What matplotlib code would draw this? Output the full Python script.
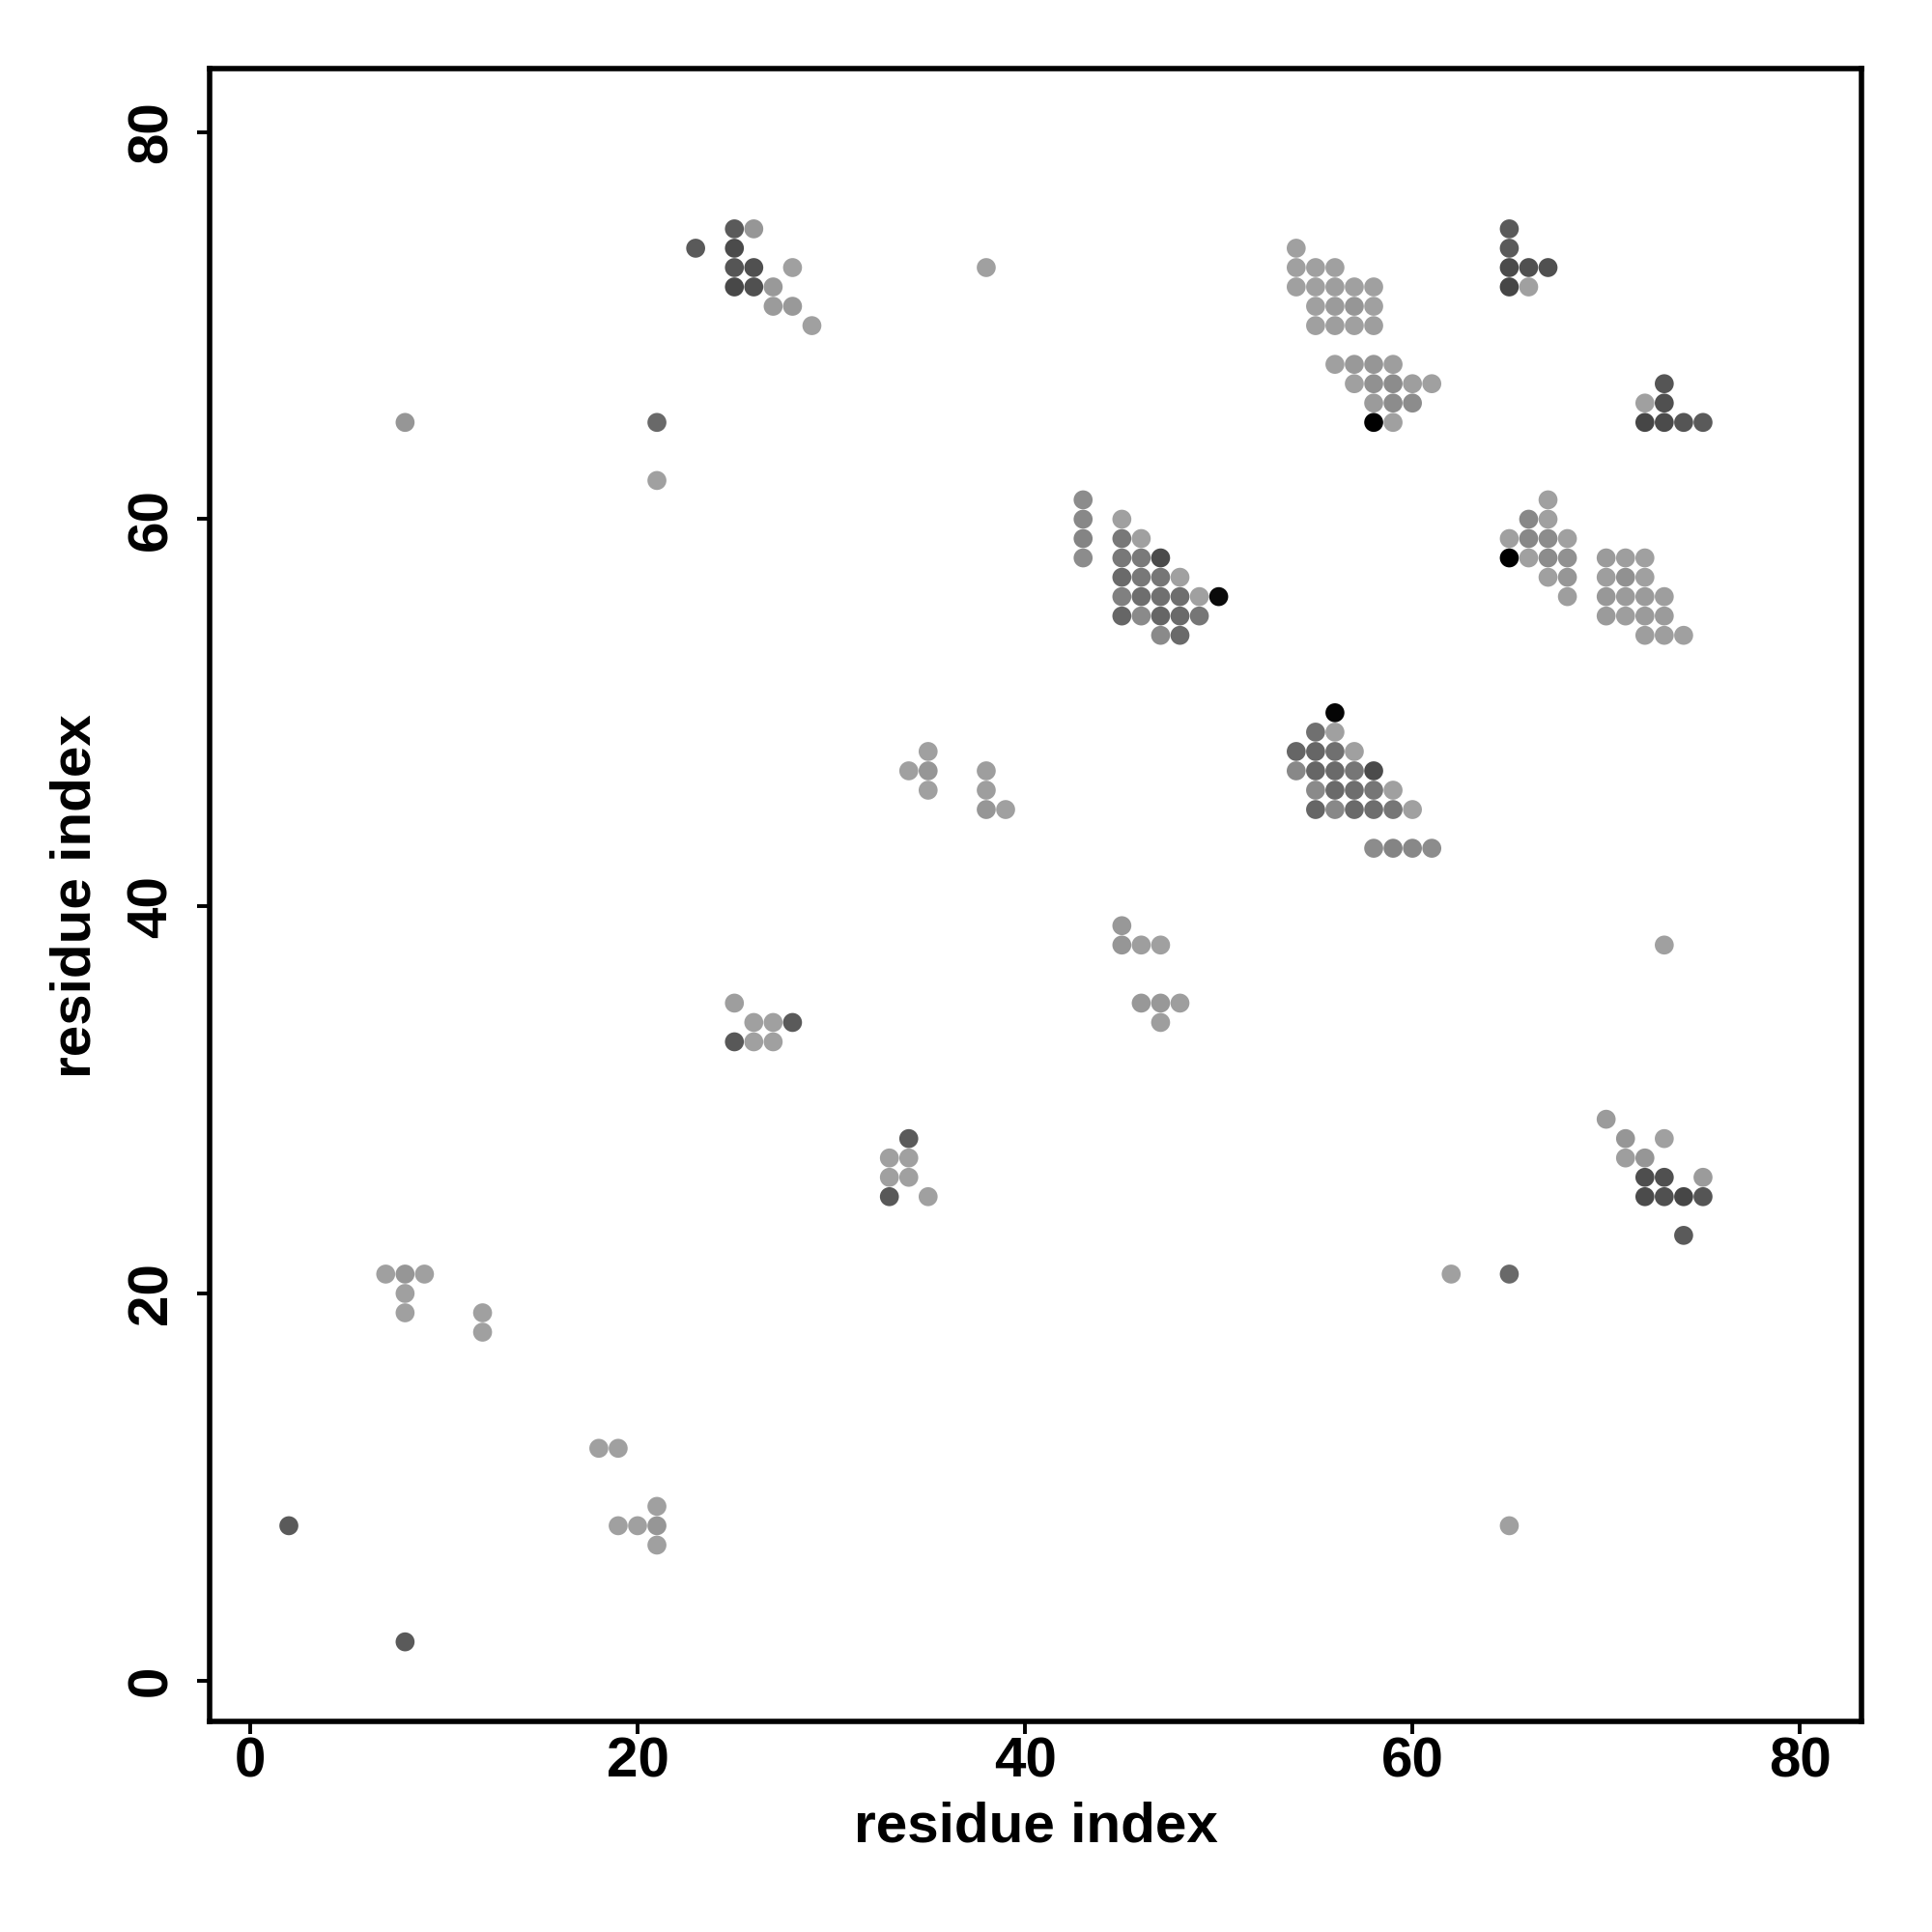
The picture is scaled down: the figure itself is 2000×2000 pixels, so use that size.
import matplotlib
matplotlib.use("Agg")
import matplotlib.pyplot as plt
import numpy as np

# contact map: residue pairs (i, j) and grey level (0 = black, 255 = white)
res_i = [23, 25, 26, 25, 25, 26, 28, 25, 26, 27, 27, 28, 29,
         38, 8, 21, 21,
         54, 54, 55, 56, 54, 55, 56, 57, 58, 55, 56, 57, 58, 55, 56, 57, 58,
         56, 57, 58, 59, 57, 58, 59, 60, 61, 58, 59, 60, 58, 59,
         65, 65, 65, 66, 67, 65, 66,
         73, 72, 73, 72, 73, 74, 75,
         43, 43, 43, 43, 45, 45, 46, 45, 46, 47, 45, 46, 47, 48,
         45, 46, 47, 48, 49, 50, 45, 46, 47, 48, 49, 47, 48,
         67, 66, 67, 65, 66, 67, 68, 65, 66, 67, 68, 67, 68, 68,
         70, 71, 72, 70, 71, 72, 70, 71, 72, 73, 70, 71, 72, 73, 72, 73, 74,
         56, 55, 56, 54, 55, 56, 57, 54, 55, 56, 57, 58,
         55, 56, 57, 58, 59, 55, 56, 57, 58, 59, 60, 58, 59, 60, 61,
         35, 34, 35, 35, 38, 38, 38, 39,
         45, 45, 46, 47, 46, 47, 48, 47, 73,
         25, 26, 27, 28, 25, 26, 27,
         34, 33, 34, 33, 34, 33, 35,
         70, 71, 73, 71, 72, 72, 73, 75, 72, 73, 74, 75, 74,
         62, 65, 65,
         7, 8, 9, 8, 8, 12, 12, 18, 19, 21, 19, 20, 21, 21, 2, 8]
res_j = [74, 75, 75, 74, 73, 73, 73, 72, 72, 72, 71, 71, 70,
         73, 65, 65, 62,
         74, 73, 73, 73, 72, 72, 72, 72, 72, 71, 71, 71, 71, 70, 70, 70, 70,
         68, 68, 68, 68, 67, 67, 67, 67, 67, 66, 66, 66, 65, 65,
         75, 74, 73, 73, 73, 72, 72,
         67, 66, 66, 65, 65, 65, 65,
         61, 60, 59, 58, 60, 59, 59, 58, 58, 58, 57, 57, 57, 57,
         56, 56, 56, 56, 56, 56, 55, 55, 55, 55, 55, 54, 54,
         61, 60, 60, 59, 59, 59, 59, 58, 58, 58, 58, 57, 57, 56,
         58, 58, 58, 57, 57, 57, 56, 56, 56, 56, 55, 55, 55, 55, 54, 54, 54,
         50, 49, 49, 48, 48, 48, 48, 47, 47, 47, 47, 47,
         46, 46, 46, 46, 46, 45, 45, 45, 45, 45, 45, 43, 43, 43, 43,
         48, 47, 47, 46, 47, 46, 45, 45,
         39, 38, 38, 38, 35, 35, 35, 34, 38,
         35, 34, 34, 34, 33, 33, 33,
         28, 27, 27, 26, 26, 25, 25,
         29, 28, 28, 27, 27, 26, 26, 26, 25, 25, 25, 25, 23,
         21, 21, 8,
         21, 21, 21, 20, 19, 19, 18, 12, 12, 9, 8, 8, 8, 7, 8, 2]
grey = [90, 90, 150, 75, 85, 80, 160, 72, 80, 153, 155, 153, 160,
        160, 150, 105, 160,
        160, 160, 160, 160, 160, 160, 158, 160, 160, 160, 155, 150, 160, 160, 158, 160, 158,
        160, 153, 150, 158, 160, 145, 140, 158, 160, 155, 140, 140, 0, 160,
        90, 90, 75, 80, 80, 70, 160,
        85, 160, 80, 70, 75, 85, 90,
        140, 136, 132, 140, 160, 120, 160, 120, 122, 75, 106, 120, 118, 160,
        128, 110, 112, 110, 160, 10, 102, 138, 102, 106, 118, 138, 106,
        160, 136, 160, 160, 136, 140, 160, 0, 160, 140, 145, 160, 150, 158,
        155, 158, 160, 158, 145, 160, 152, 155, 155, 158, 155, 158, 155, 155, 158, 158, 160,
        5, 112, 160, 102, 102, 112, 160, 136, 102, 106, 118, 75,
        138, 106, 110, 118, 160, 102, 136, 106, 110, 118, 160, 140, 132, 136, 140,
        160, 160, 150, 160, 158, 158, 150, 160,
        152, 150, 158, 160, 152, 152, 158, 158, 160,
        158, 160, 160, 90, 88, 160, 160,
        90, 160, 160, 160, 160, 88, 160,
        155, 150, 160, 158, 150, 78, 80, 155, 75, 80, 70, 85, 90,
        160, 105, 160,
        160, 150, 160, 160, 160, 160, 160, 160, 160, 160, 160, 160, 150, 160, 90, 90]

plt.rcParams['font.family'] = ['Liberation Sans', 'DejaVu Sans']
plt.rcParams['font.weight'] = 'bold'

fig = plt.figure(figsize=(10, 10), dpi=200)
ax = fig.add_axes([0.1084, 0.1091, 0.8553, 0.8552])

cols = [(g / 255, g / 255, g / 255) for g in grey]
ax.scatter(res_i, res_j, s=50, c=cols, linewidths=0, zorder=3)

ax.set_xlim(-2.1, 83.2)
ax.set_ylim(-2.1, 83.26)
ax.set_xticks([0, 20, 40, 60, 80])
ax.set_yticks([0, 20, 40, 60, 80])

for sp in ax.spines.values():
    sp.set_linewidth(2.0)
ax.tick_params(axis='both', direction='out', length=4.6, width=1.4, labelsize=21)
ax.tick_params(axis='x', pad=1)
ax.tick_params(axis='y', pad=7, labelrotation=90)
for lab in ax.get_yticklabels():
    lab.set_va('center')
    lab.set_fontweight('bold')
for lab in ax.get_xticklabels():
    lab.set_fontweight('bold')

fig.text(0.536, 0.0542, 'residue index', ha='center', va='center',
         fontsize=21, fontweight='bold')
fig.text(0.0395, 0.536, 'residue index', ha='center', va='center',
         rotation=90, fontsize=21, fontweight='bold')

fig.savefig('out.png', dpi=200, facecolor='white')
